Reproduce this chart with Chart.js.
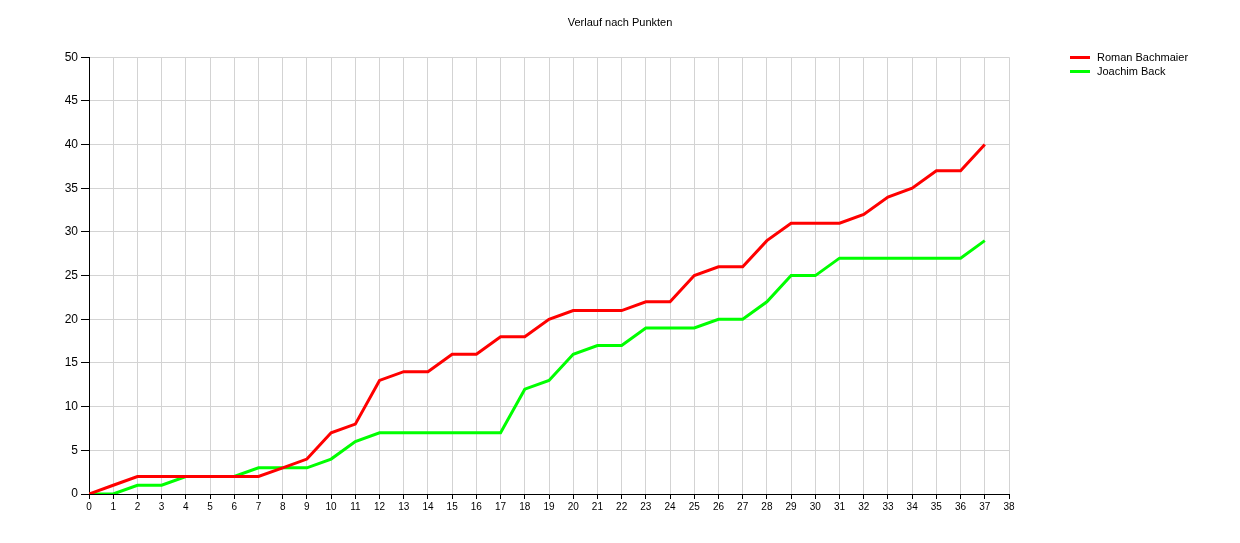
<!DOCTYPE html>
<html lang="de">
<head>
  <meta charset="UTF-8">
  <title>Verlauf nach Punkten</title>
  <script src="https://cdn.jsdelivr.net/npm/chart.js"></script>
  <style>
    body { margin: 0; background: #fff; font-family: "Liberation Sans", Arial, sans-serif; }
    #wrap { position: relative; width: 1240px; height: 543px; }
    #legend { position: absolute; left: 1070px; top: 50px; font-size: 11px; color: #000; }
    #legend div { height: 14px; line-height: 14px; white-space: nowrap; }
    #legend span.swatch { display: inline-block; width: 20px; height: 3px; vertical-align: middle; margin-right: 7px; position: relative; top: -1px; }
  </style>
</head>
<body>
  <div id="wrap">
    <canvas id="chart" width="1240" height="543"></canvas>
    <div id="legend"></div>
  </div>

  <script>
    // Spieltage 0..37, Punkte kumuliert
    const spieltage = [0,1,2,3,4,5,6,7,8,9,10,11,12,13,14,15,16,17,18,19,20,21,22,23,24,25,26,27,28,29,30,31,32,33,34,35,36,37];
    const romanPunkte = [0,1,2,2,2,2,2,2,3,4,7,8,13,14,14,16,16,18,18,20,21,21,21,22,22,25,26,26,29,31,31,31,32,34,35,37,37,40];
    const joachimPunkte = [0,0,1,1,2,2,2,3,3,3,4,6,7,7,7,7,7,7,12,13,16,17,17,19,19,19,20,20,22,25,25,27,27,27,27,27,27,29];
    const spielerNamen = ['Roman Bachmaier', 'Joachim Back'];
    const farben = ['#ff0000', '#00ff00'];

    const toPoints = arr => arr.map((v, i) => ({ x: spieltage[i], y: v }));

    const datasets = [romanPunkte, joachimPunkte].map((arr, i) => ({
      label: spielerNamen[i],
      data: toPoints(arr),
      borderColor: farben[i],
      backgroundColor: farben[i],
      borderWidth: 3,
      pointRadius: 0,
      tension: 0,
      fill: false
    }));

    const chart = new Chart(document.getElementById('chart'), {
      type: 'line',
      data: { datasets: datasets },
      options: {
        responsive: false,
        animation: false,
        layout: { padding: 0 },
        plugins: {
          legend: { display: false },
          tooltip: { enabled: false },
          title: {
            display: true,
            text: 'Verlauf nach Punkten',
            color: '#000',
            font: { family: 'Liberation Sans', size: 11, weight: 'normal' },
            padding: { top: 16, bottom: 28 }
          }
        },
        scales: {
          x: {
            type: 'linear',
            min: 0,
            max: 38,
            afterFit: s => { s.height = 49; },
            ticks: {
              stepSize: 1,
              autoSkip: false,
              maxRotation: 0,
              color: '#000',
              padding: 2,
              font: { family: 'Liberation Sans', size: 10 }
            },
            grid: { color: '#d3d3d3', tickColor: '#000', tickLength: 5 },
            border: { color: '#000', width: 1 }
          },
          y: {
            min: 0,
            max: 50,
            afterFit: s => { s.width = 89; },
            ticks: {
              stepSize: 5,
              color: '#000',
              padding: 3,
              font: { family: 'Liberation Sans', size: 12 }
            },
            grid: { color: '#d3d3d3', tickColor: '#000', tickLength: 8 },
            border: { color: '#000', width: 1 }
          },
          // leerer Platz rechts fuer die Legende
          rechts: {
            position: 'right',
            min: 0,
            max: 50,
            afterFit: s => { s.width = 231; },
            ticks: { display: false },
            grid: { display: false },
            border: { display: false }
          }
        }
      }
    });

    // Legende rechts oben
    let html = '';
    chart.data.datasets.forEach(ds => {
      html += `<div><span class="swatch" style="background:${ds.borderColor}"></span>${ds.label}</div>`;
    });
    document.getElementById('legend').innerHTML = html;
  </script>
</body>
</html>
